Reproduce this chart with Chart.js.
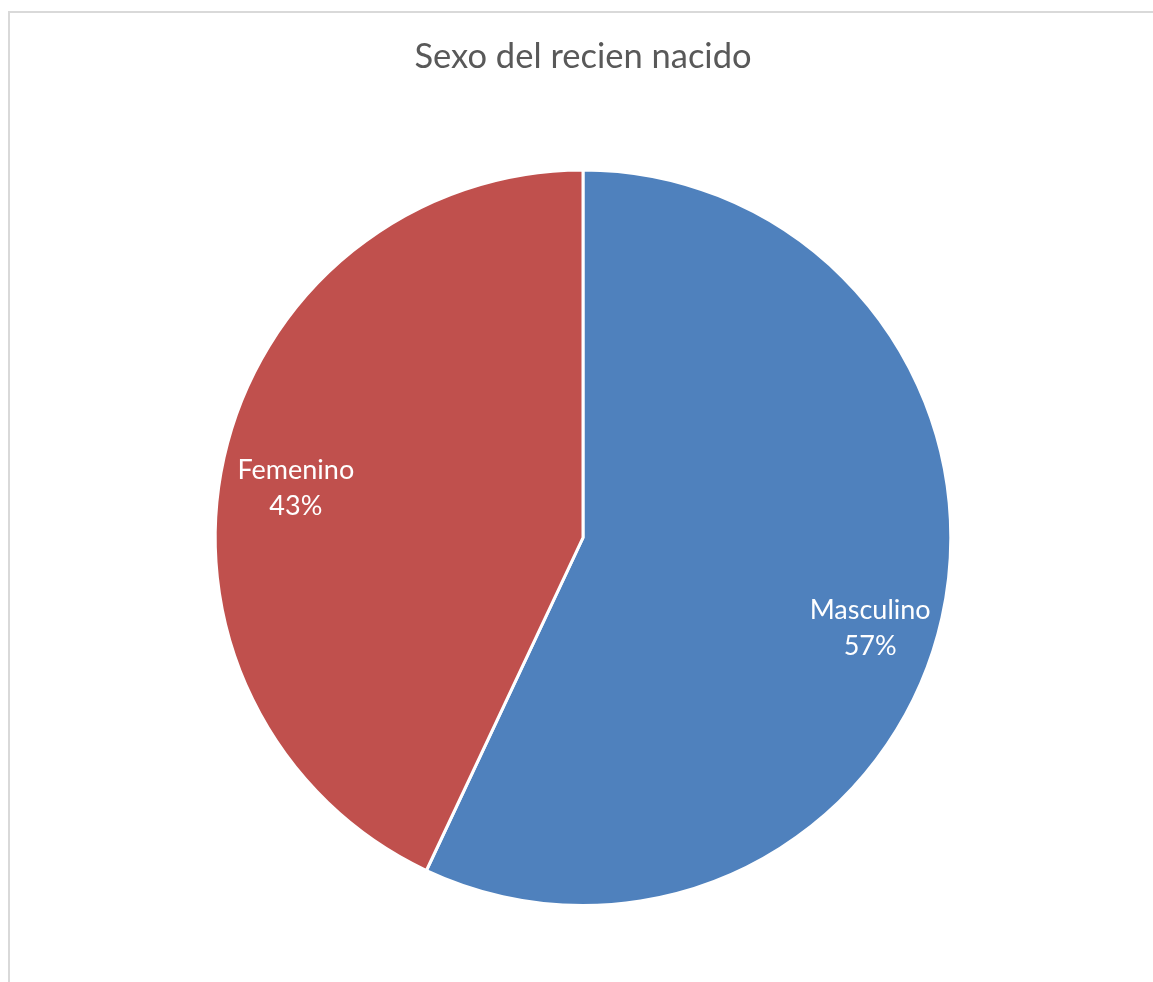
<!DOCTYPE html>
<html lang="es">
<head>
    <meta charset="UTF-8">
    <title>Sexo del recien nacido</title>
    <script src="https://cdn.jsdelivr.net/npm/chart.js@4.4.0/dist/chart.umd.min.js"></script>
    <style>
        html, body { margin: 0; padding: 0; background: #fff; }
        #frame {
            position: absolute;
            left: 8px;
            top: 11px;
            width: 1200px;
            height: 1000px;
            border-left: 2px solid #d9d9d9;
            border-top: 2px solid #d9d9d9;
        }
        #chart-container {
            position: absolute;
            left: 0;
            top: 0;
            width: 1153px;
            height: 982px;
        }
    </style>
</head>
<body>
    <div id="frame"></div>
    <div id="chart-container">
        <canvas id="pieChart"></canvas>
    </div>

    <script>
        const categories = ['Masculino', 'Femenino'];
        const percentages = [57, 43];
        const sliceColors = ['#4f81bd', '#c0504d'];

        // etiquetas dentro de cada porción: nombre y porcentaje
        const sliceLabels = {
            id: 'sliceLabels',
            afterDatasetsDraw(chart) {
                const ctx = chart.ctx;
                const meta = chart.getDatasetMeta(0);
                ctx.save();
                ctx.fillStyle = '#ffffff';
                ctx.font = '27px Lato, "Open Sans", sans-serif';
                ctx.textAlign = 'center';
                ctx.textBaseline = 'middle';
                meta.data.forEach((arc, i) => {
                    const mid = (arc.startAngle + arc.endAngle) / 2;
                    const r = arc.outerRadius * 0.8;
                    const x = arc.x + Math.cos(mid) * r;
                    // las etiquetas quedan algo por debajo del ángulo medio
                    const y = arc.y + Math.sin(mid) * r + 21 + Math.cos(mid) * 6;
                    ctx.fillText(categories[i], x, y - 18);
                    ctx.fillText(percentages[i] + '%', x, y + 18);
                });
                ctx.restore();
            }
        };

        new Chart(document.getElementById('pieChart'), {
            type: 'pie',
            data: {
                labels: categories,
                datasets: [{
                    data: percentages,
                    backgroundColor: sliceColors,
                    borderColor: '#ffffff',
                    borderWidth: 3
                }]
            },
            options: {
                responsive: true,
                maintainAspectRatio: false,
                animation: false,
                layout: { padding: { left: 213, right: 200, top: 0, bottom: 75 } },
                plugins: {
                    legend: { display: false },
                    tooltip: { enabled: false },
                    title: {
                        display: true,
                        text: 'Sexo del recien nacido',
                        color: '#595959',
                        font: { family: 'Lato, "Open Sans", sans-serif', size: 34.5, weight: 'normal' },
                        padding: { top: 36, bottom: 91 }
                    }
                }
            },
            plugins: [sliceLabels]
        });
    </script>
</body>
</html>
